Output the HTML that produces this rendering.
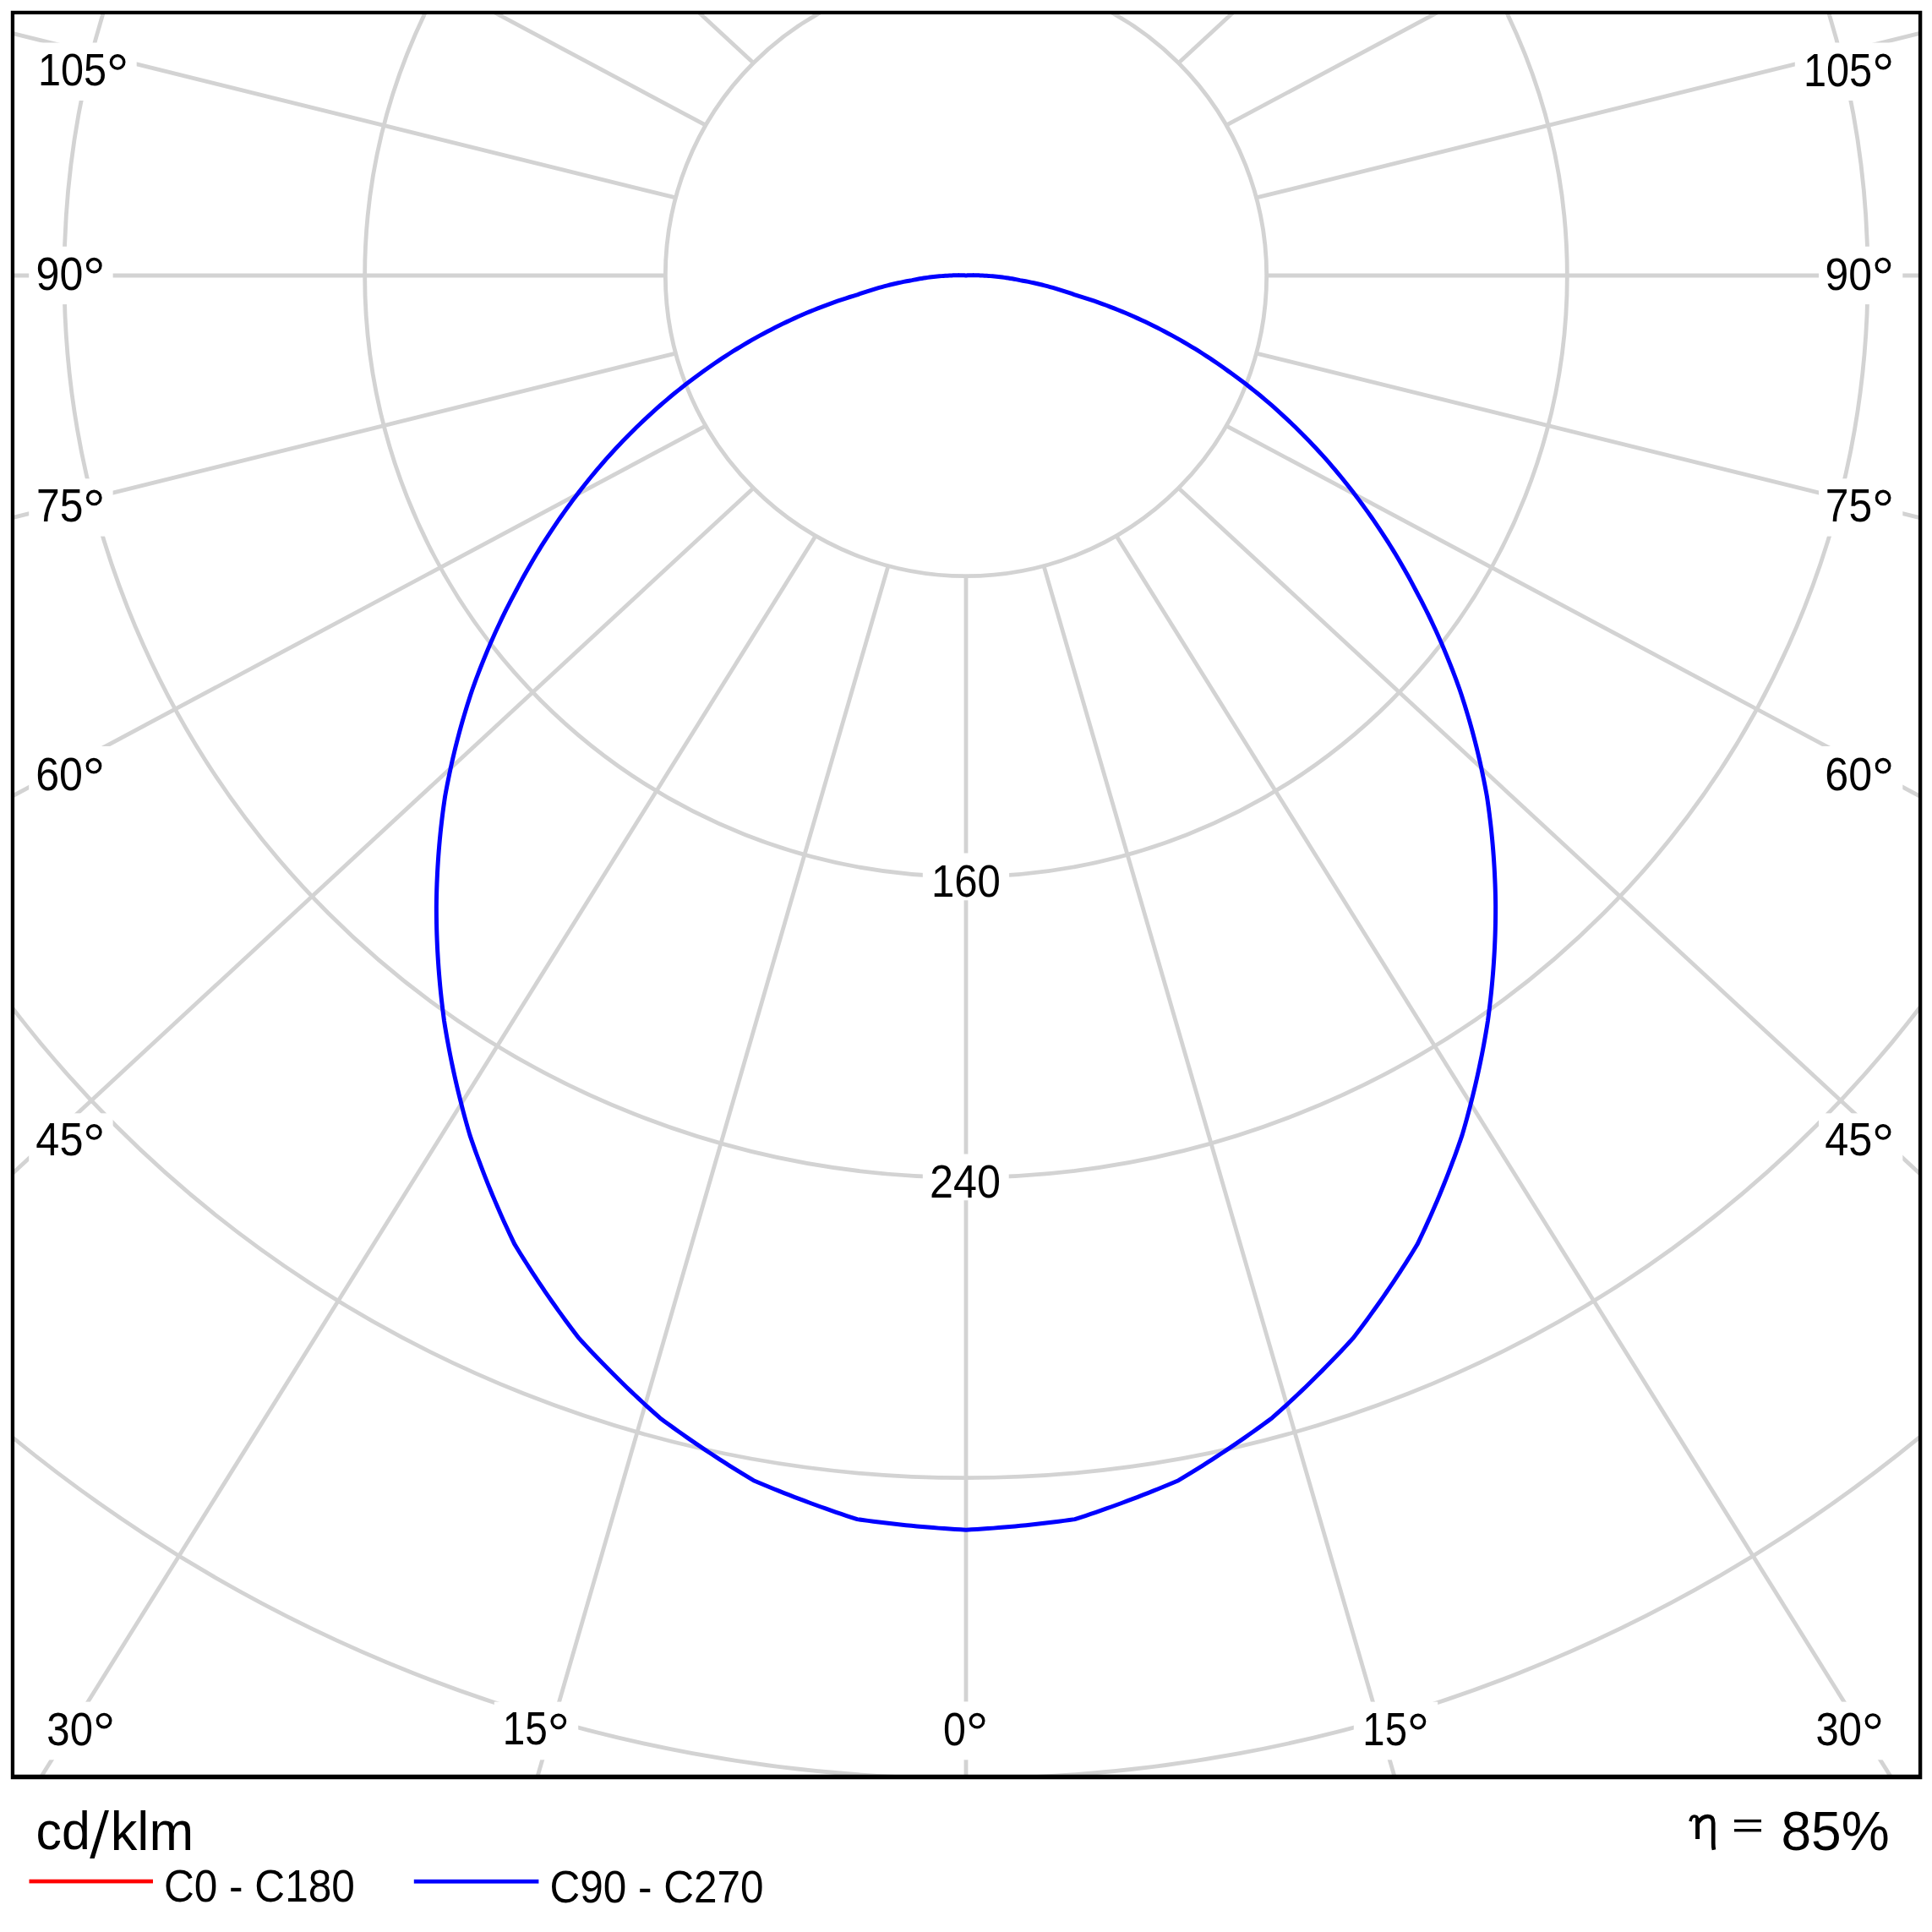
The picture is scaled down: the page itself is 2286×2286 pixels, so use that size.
<!DOCTYPE html><html><head><meta charset="utf-8"><style>html,body{margin:0;padding:0;background:#fff;overflow:hidden}svg{display:block}</style></head><body>
<svg width="2286" height="2286" viewBox="0 0 2286 2286">
<rect width="2286" height="2286" fill="#fff"/>
<defs><clipPath id="fr"><rect x="17" y="17" width="2253" height="2083"/></clipPath></defs>
<g clip-path="url(#fr)" fill="none" stroke="#d3d3d3" stroke-width="4.8">
<circle cx="1143.0" cy="326.0" r="355.67"/>
<circle cx="1143.0" cy="326.0" r="711.34"/>
<circle cx="1143.0" cy="326.0" r="1067.01"/>
<circle cx="1143.0" cy="326.0" r="1422.68"/>
<circle cx="1143.0" cy="326.0" r="1778.35"/>
<line x1="1143.00" y1="681.67" x2="1143.00" y2="4181.67"/>
<line x1="1050.95" y1="669.55" x2="77.12" y2="4031.35"/>
<line x1="965.16" y1="634.02" x2="-888.04" y2="3603.13"/>
<line x1="891.50" y1="577.50" x2="-1677.84" y2="2954.14"/>
<line x1="834.98" y1="503.84" x2="-2252.34" y2="2152.61"/>
<line x1="799.45" y1="418.05" x2="-2597.76" y2="1260.06"/>
<line x1="787.33" y1="326.00" x2="-2712.67" y2="326.00"/>
<line x1="799.45" y1="233.95" x2="-2597.76" y2="-608.06"/>
<line x1="834.98" y1="148.17" x2="-2252.34" y2="-1500.61"/>
<line x1="891.50" y1="74.50" x2="-1677.84" y2="-2302.14"/>
<line x1="1235.05" y1="669.55" x2="2208.88" y2="4031.35"/>
<line x1="1320.84" y1="634.02" x2="3174.04" y2="3603.13"/>
<line x1="1394.50" y1="577.50" x2="3963.84" y2="2954.14"/>
<line x1="1451.02" y1="503.84" x2="4538.34" y2="2152.61"/>
<line x1="1486.55" y1="418.05" x2="4883.76" y2="1260.06"/>
<line x1="1498.67" y1="326.00" x2="4998.67" y2="326.00"/>
<line x1="1486.55" y1="233.95" x2="4883.76" y2="-608.06"/>
<line x1="1451.02" y1="148.17" x2="4538.34" y2="-1500.61"/>
<line x1="1394.50" y1="74.50" x2="3963.84" y2="-2302.14"/>
</g>
<rect x="34.2" y="50.5" width="127.5" height="68.5" fill="#fff"/>
<rect x="34.2" y="291.7" width="99.4" height="68.4" fill="#fff"/>
<rect x="34.2" y="566.3" width="99.4" height="68.3" fill="#fff"/>
<rect x="34.2" y="883" width="99.4" height="68.4" fill="#fff"/>
<rect x="34.2" y="1317.3" width="99.4" height="68.4" fill="#fff"/>
<rect x="2123.8" y="50.5" width="127.5" height="68.5" fill="#fff"/>
<rect x="2152" y="291.7" width="99.3" height="68.4" fill="#fff"/>
<rect x="2152" y="566.3" width="99.3" height="68.3" fill="#fff"/>
<rect x="2152" y="883" width="99.3" height="68.4" fill="#fff"/>
<rect x="2152" y="1317.3" width="99.3" height="68.4" fill="#fff"/>
<rect x="45.2" y="2013.6" width="99.3" height="68.7" fill="#fff"/>
<rect x="584.8" y="2013.6" width="99.4" height="68.7" fill="#fff"/>
<rect x="1105.5" y="2013.4" width="75.0" height="68.9" fill="#fff"/>
<rect x="1601.8" y="2013.6" width="99.4" height="68.7" fill="#fff"/>
<rect x="2138" y="2013.6" width="99.4" height="68.7" fill="#fff"/>
<rect x="1091.8" y="1009.5" width="102.3" height="55.8" fill="#fff"/>
<rect x="1091.8" y="1365.5" width="101.9" height="54.8" fill="#fff"/>
<path d="M1143.00,326.00 L1142.14,325.93 L1141.27,325.86 L1140.41,325.81 L1139.55,325.76 L1138.68,325.72 L1137.82,325.68 L1136.96,325.66 L1136.09,325.64 L1135.23,325.63 L1134.36,325.62 L1133.49,325.63 L1132.63,325.64 L1131.76,325.66 L1130.90,325.68 L1130.03,325.72 L1129.17,325.76 L1128.30,325.81 L1127.44,325.86 L1126.57,325.93 L1125.71,326.00 L1123.36,326.09 L1121.02,326.19 L1118.67,326.32 L1116.33,326.47 L1113.99,326.63 L1111.64,326.82 L1109.30,327.03 L1106.96,327.26 L1104.63,327.51 L1102.29,327.78 L1099.95,328.07 L1097.62,328.38 L1095.29,328.71 L1092.96,329.06 L1090.63,329.43 L1088.31,329.82 L1085.99,330.24 L1083.67,330.67 L1081.35,331.12 L1079.04,331.60 L1075.78,332.18 L1072.53,332.79 L1069.28,333.42 L1066.03,334.09 L1062.79,334.78 L1059.56,335.51 L1056.33,336.26 L1053.10,337.04 L1049.88,337.85 L1046.67,338.68 L1043.46,339.55 L1040.26,340.44 L1037.06,341.36 L1033.87,342.31 L1030.68,343.29 L1027.50,344.29 L1024.33,345.33 L1021.17,346.39 L1018.01,347.48 L1014.86,348.59 L1010.09,350.03 L1005.34,351.51 L1000.59,353.04 L995.86,354.60 L991.13,356.21 L986.42,357.86 L981.72,359.55 L977.03,361.28 L972.35,363.05 L967.69,364.87 L963.04,366.72 L958.40,368.62 L953.77,370.56 L949.16,372.54 L944.56,374.56 L939.97,376.62 L935.40,378.72 L930.85,380.87 L926.31,383.05 L921.78,385.28 L917.18,387.57 L912.59,389.90 L908.01,392.27 L903.45,394.69 L898.91,397.14 L894.39,399.64 L889.88,402.18 L885.39,404.76 L880.92,407.38 L876.47,410.04 L872.03,412.74 L867.62,415.48 L863.22,418.26 L858.84,421.08 L854.48,423.94 L850.14,426.84 L845.82,429.78 L841.52,432.76 L837.25,435.78 L832.99,438.84 L828.56,442.00 L824.16,445.21 L819.78,448.46 L815.42,451.75 L811.09,455.07 L806.78,458.44 L802.49,461.85 L798.22,465.30 L793.98,468.79 L789.76,472.32 L785.57,475.88 L781.40,479.49 L777.25,483.14 L773.13,486.82 L769.04,490.55 L764.97,494.31 L760.93,498.11 L756.91,501.95 L752.92,505.83 L748.96,509.75 L744.95,513.73 L740.98,517.75 L737.03,521.82 L733.11,525.92 L729.22,530.06 L725.35,534.23 L721.52,538.45 L717.71,542.70 L713.93,546.98 L710.18,551.31 L706.47,555.67 L702.78,560.07 L699.12,564.51 L695.49,568.98 L691.89,573.48 L688.33,578.03 L684.79,582.61 L681.29,587.22 L677.82,591.87 L674.38,596.56 L670.87,601.34 L667.39,606.16 L663.94,611.01 L660.53,615.90 L657.15,620.82 L653.81,625.78 L650.50,630.77 L647.22,635.80 L643.98,640.86 L640.77,645.95 L637.60,651.08 L634.46,656.25 L631.36,661.44 L628.30,666.67 L625.27,671.94 L622.28,677.23 L619.32,682.56 L616.40,687.92 L613.52,693.32 L610.67,698.74 L607.70,704.32 L604.76,709.92 L601.86,715.56 L599.00,721.24 L596.18,726.94 L593.40,732.68 L590.66,738.45 L587.96,744.25 L585.30,750.08 L582.68,755.95 L580.10,761.84 L577.56,767.77 L575.07,773.72 L572.61,779.71 L570.20,785.72 L567.82,791.77 L565.49,797.84 L563.21,803.95 L560.96,810.08 L558.76,816.24 L556.74,822.31 L554.76,828.40 L552.83,834.52 L550.94,840.67 L549.09,846.85 L547.28,853.05 L545.52,859.27 L543.80,865.52 L542.12,871.80 L540.49,878.10 L538.90,884.42 L537.36,890.77 L535.85,897.15 L534.40,903.54 L532.98,909.96 L531.61,916.41 L530.29,922.88 L529.01,929.37 L527.78,935.88 L526.59,942.41 L525.65,948.76 L524.76,955.13 L523.91,961.51 L523.11,967.92 L522.35,974.34 L521.63,980.79 L520.96,987.25 L520.33,993.73 L519.75,1000.23 L519.21,1006.74 L518.72,1013.28 L518.27,1019.83 L517.87,1026.40 L517.52,1032.98 L517.21,1039.58 L516.94,1046.20 L516.72,1052.83 L516.55,1059.48 L516.42,1066.14 L516.34,1072.82 L516.36,1079.45 L516.42,1086.10 L516.53,1092.76 L516.68,1099.44 L516.88,1106.13 L517.13,1112.83 L517.42,1119.54 L517.76,1126.27 L518.15,1133.01 L518.58,1139.76 L519.06,1146.52 L519.59,1153.29 L520.17,1160.07 L520.79,1166.87 L521.46,1173.67 L522.18,1180.49 L522.95,1187.31 L523.76,1194.14 L524.62,1200.99 L525.53,1207.84 L526.60,1214.54 L527.71,1221.25 L528.88,1227.96 L530.09,1234.68 L531.34,1241.41 L532.65,1248.14 L534.00,1254.88 L535.40,1261.63 L536.84,1268.38 L538.33,1275.14 L539.87,1281.90 L541.46,1288.66 L543.10,1295.43 L544.78,1302.21 L546.51,1308.98 L548.29,1315.76 L550.12,1322.55 L551.99,1329.33 L553.91,1336.12 L555.88,1342.92 L558.09,1349.38 L560.35,1355.84 L562.64,1362.30 L564.99,1368.76 L567.38,1375.22 L569.81,1381.68 L572.29,1388.14 L574.82,1394.59 L577.39,1401.05 L580.01,1407.50 L582.67,1413.95 L585.38,1420.40 L588.13,1426.84 L590.93,1433.28 L593.78,1439.72 L596.67,1446.15 L599.60,1452.58 L602.58,1459.00 L605.61,1465.42 L608.69,1471.84 L612.14,1477.52 L615.63,1483.20 L619.17,1488.87 L622.74,1494.53 L626.35,1500.18 L630.00,1505.82 L633.69,1511.45 L637.42,1517.07 L641.19,1522.69 L645.00,1528.29 L648.84,1533.88 L652.73,1539.46 L656.66,1545.03 L660.62,1550.58 L664.63,1556.13 L668.67,1561.67 L672.76,1567.19 L676.88,1572.70 L681.04,1578.20 L685.24,1583.68 L689.70,1588.54 L694.20,1593.38 L698.72,1598.21 L703.29,1603.02 L707.88,1607.82 L712.51,1612.60 L717.17,1617.36 L721.87,1622.11 L726.60,1626.84 L731.36,1631.55 L736.16,1636.25 L740.98,1640.93 L745.85,1645.60 L750.74,1650.24 L755.67,1654.87 L760.63,1659.48 L765.62,1664.07 L770.65,1668.65 L775.71,1673.20 L780.80,1677.74 L786.09,1681.64 L791.40,1685.52 L796.74,1689.38 L802.11,1693.22 L807.51,1697.04 L812.93,1700.84 L818.38,1704.62 L823.85,1708.37 L829.36,1712.10 L834.89,1715.82 L840.44,1719.51 L846.02,1723.17 L851.63,1726.82 L857.26,1730.44 L862.92,1734.04 L868.61,1737.62 L874.32,1741.18 L880.06,1744.71 L885.82,1748.22 L891.61,1751.70 L897.58,1754.24 L903.57,1756.76 L909.58,1759.25 L915.61,1761.71 L921.65,1764.15 L927.71,1766.56 L933.78,1768.95 L939.87,1771.31 L945.98,1773.65 L952.11,1775.96 L958.25,1778.25 L964.41,1780.50 L970.58,1782.74 L976.77,1784.94 L982.98,1787.12 L989.20,1789.28 L995.44,1791.41 L1001.70,1793.51 L1007.96,1795.58 L1014.25,1797.63 L1020.64,1798.52 L1027.04,1799.39 L1033.45,1800.23 L1039.86,1801.04 L1046.27,1801.82 L1052.69,1802.58 L1059.11,1803.30 L1065.54,1804.00 L1071.97,1804.68 L1078.41,1805.32 L1084.85,1805.93 L1091.30,1806.52 L1097.75,1807.08 L1104.20,1807.61 L1110.66,1808.12 L1117.12,1808.59 L1123.59,1809.04 L1130.05,1809.46 L1136.53,1809.85 L1143.00,1810.21 L1149.47,1809.85 L1155.95,1809.46 L1162.41,1809.04 L1168.88,1808.59 L1175.34,1808.12 L1181.80,1807.61 L1188.25,1807.08 L1194.70,1806.52 L1201.15,1805.93 L1207.59,1805.32 L1214.03,1804.68 L1220.46,1804.00 L1226.89,1803.30 L1233.31,1802.58 L1239.73,1801.82 L1246.14,1801.04 L1252.55,1800.23 L1258.96,1799.39 L1265.36,1798.52 L1271.75,1797.63 L1278.04,1795.58 L1284.30,1793.51 L1290.56,1791.41 L1296.80,1789.28 L1303.02,1787.12 L1309.23,1784.94 L1315.42,1782.74 L1321.59,1780.50 L1327.75,1778.25 L1333.89,1775.96 L1340.02,1773.65 L1346.13,1771.31 L1352.22,1768.95 L1358.29,1766.56 L1364.35,1764.15 L1370.39,1761.71 L1376.42,1759.25 L1382.43,1756.76 L1388.42,1754.24 L1394.39,1751.70 L1400.18,1748.22 L1405.94,1744.71 L1411.68,1741.18 L1417.39,1737.62 L1423.08,1734.04 L1428.74,1730.44 L1434.37,1726.82 L1439.98,1723.17 L1445.56,1719.51 L1451.11,1715.82 L1456.64,1712.10 L1462.15,1708.37 L1467.62,1704.62 L1473.07,1700.84 L1478.49,1697.04 L1483.89,1693.22 L1489.26,1689.38 L1494.60,1685.52 L1499.91,1681.64 L1505.20,1677.74 L1510.29,1673.20 L1515.35,1668.65 L1520.38,1664.07 L1525.37,1659.48 L1530.33,1654.87 L1535.26,1650.24 L1540.15,1645.60 L1545.02,1640.93 L1549.84,1636.25 L1554.64,1631.55 L1559.40,1626.84 L1564.13,1622.11 L1568.83,1617.36 L1573.49,1612.60 L1578.12,1607.82 L1582.71,1603.02 L1587.28,1598.21 L1591.80,1593.38 L1596.30,1588.54 L1600.76,1583.68 L1604.96,1578.20 L1609.12,1572.70 L1613.24,1567.19 L1617.33,1561.67 L1621.37,1556.13 L1625.38,1550.58 L1629.34,1545.03 L1633.27,1539.46 L1637.16,1533.88 L1641.00,1528.29 L1644.81,1522.69 L1648.58,1517.07 L1652.31,1511.45 L1656.00,1505.82 L1659.65,1500.18 L1663.26,1494.53 L1666.83,1488.87 L1670.37,1483.20 L1673.86,1477.52 L1677.31,1471.84 L1680.39,1465.42 L1683.42,1459.00 L1686.40,1452.58 L1689.33,1446.15 L1692.22,1439.72 L1695.07,1433.28 L1697.87,1426.84 L1700.62,1420.40 L1703.33,1413.95 L1705.99,1407.50 L1708.61,1401.05 L1711.18,1394.59 L1713.71,1388.14 L1716.19,1381.68 L1718.62,1375.22 L1721.01,1368.76 L1723.36,1362.30 L1725.65,1355.84 L1727.91,1349.38 L1730.12,1342.92 L1732.09,1336.12 L1734.01,1329.33 L1735.88,1322.55 L1737.71,1315.76 L1739.49,1308.98 L1741.22,1302.21 L1742.90,1295.43 L1744.54,1288.66 L1746.13,1281.90 L1747.67,1275.14 L1749.16,1268.38 L1750.60,1261.63 L1752.00,1254.88 L1753.35,1248.14 L1754.66,1241.41 L1755.91,1234.68 L1757.12,1227.96 L1758.29,1221.25 L1759.40,1214.54 L1760.47,1207.84 L1761.38,1200.99 L1762.24,1194.14 L1763.05,1187.31 L1763.82,1180.49 L1764.54,1173.67 L1765.21,1166.87 L1765.83,1160.07 L1766.41,1153.29 L1766.94,1146.52 L1767.42,1139.76 L1767.85,1133.01 L1768.24,1126.27 L1768.58,1119.54 L1768.87,1112.83 L1769.12,1106.13 L1769.32,1099.44 L1769.47,1092.76 L1769.58,1086.10 L1769.64,1079.45 L1769.66,1072.82 L1769.58,1066.14 L1769.45,1059.48 L1769.28,1052.83 L1769.06,1046.20 L1768.79,1039.58 L1768.48,1032.98 L1768.13,1026.40 L1767.73,1019.83 L1767.28,1013.28 L1766.79,1006.74 L1766.25,1000.23 L1765.67,993.73 L1765.04,987.25 L1764.37,980.79 L1763.65,974.34 L1762.89,967.92 L1762.09,961.51 L1761.24,955.13 L1760.35,948.76 L1759.41,942.41 L1758.22,935.88 L1756.99,929.37 L1755.71,922.88 L1754.39,916.41 L1753.02,909.96 L1751.60,903.54 L1750.15,897.15 L1748.64,890.77 L1747.10,884.42 L1745.51,878.10 L1743.88,871.80 L1742.20,865.52 L1740.48,859.27 L1738.72,853.05 L1736.91,846.85 L1735.06,840.67 L1733.17,834.52 L1731.24,828.40 L1729.26,822.31 L1727.24,816.24 L1725.04,810.08 L1722.79,803.95 L1720.51,797.84 L1718.18,791.77 L1715.80,785.72 L1713.39,779.71 L1710.93,773.72 L1708.44,767.77 L1705.90,761.84 L1703.32,755.95 L1700.70,750.08 L1698.04,744.25 L1695.34,738.45 L1692.60,732.68 L1689.82,726.94 L1687.00,721.24 L1684.14,715.56 L1681.24,709.92 L1678.30,704.32 L1675.33,698.74 L1672.48,693.32 L1669.60,687.92 L1666.68,682.56 L1663.72,677.23 L1660.73,671.94 L1657.70,666.67 L1654.64,661.44 L1651.54,656.25 L1648.40,651.08 L1645.23,645.95 L1642.02,640.86 L1638.78,635.80 L1635.50,630.77 L1632.19,625.78 L1628.85,620.82 L1625.47,615.90 L1622.06,611.01 L1618.61,606.16 L1615.13,601.34 L1611.62,596.56 L1608.18,591.87 L1604.71,587.22 L1601.21,582.61 L1597.67,578.03 L1594.11,573.48 L1590.51,568.98 L1586.88,564.51 L1583.22,560.07 L1579.53,555.67 L1575.82,551.31 L1572.07,546.98 L1568.29,542.70 L1564.48,538.45 L1560.65,534.23 L1556.78,530.06 L1552.89,525.92 L1548.97,521.82 L1545.02,517.75 L1541.05,513.73 L1537.04,509.75 L1533.08,505.83 L1529.09,501.95 L1525.07,498.11 L1521.03,494.31 L1516.96,490.55 L1512.87,486.82 L1508.75,483.14 L1504.60,479.49 L1500.43,475.88 L1496.24,472.32 L1492.02,468.79 L1487.78,465.30 L1483.51,461.85 L1479.22,458.44 L1474.91,455.07 L1470.58,451.75 L1466.22,448.46 L1461.84,445.21 L1457.44,442.00 L1453.01,438.84 L1448.75,435.78 L1444.48,432.76 L1440.18,429.78 L1435.86,426.84 L1431.52,423.94 L1427.16,421.08 L1422.78,418.26 L1418.38,415.48 L1413.97,412.74 L1409.53,410.04 L1405.08,407.38 L1400.61,404.76 L1396.12,402.18 L1391.61,399.64 L1387.09,397.14 L1382.55,394.69 L1377.99,392.27 L1373.41,389.90 L1368.82,387.57 L1364.22,385.28 L1359.69,383.05 L1355.15,380.87 L1350.60,378.72 L1346.03,376.62 L1341.44,374.56 L1336.84,372.54 L1332.23,370.56 L1327.60,368.62 L1322.96,366.72 L1318.31,364.87 L1313.65,363.05 L1308.97,361.28 L1304.28,359.55 L1299.58,357.86 L1294.87,356.21 L1290.14,354.60 L1285.41,353.04 L1280.66,351.51 L1275.91,350.03 L1271.14,348.59 L1267.99,347.48 L1264.83,346.39 L1261.67,345.33 L1258.50,344.29 L1255.32,343.29 L1252.13,342.31 L1248.94,341.36 L1245.74,340.44 L1242.54,339.55 L1239.33,338.68 L1236.12,337.85 L1232.90,337.04 L1229.67,336.26 L1226.44,335.51 L1223.21,334.78 L1219.97,334.09 L1216.72,333.42 L1213.47,332.79 L1210.22,332.18 L1206.96,331.60 L1204.65,331.12 L1202.33,330.67 L1200.01,330.24 L1197.69,329.82 L1195.37,329.43 L1193.04,329.06 L1190.71,328.71 L1188.38,328.38 L1186.05,328.07 L1183.71,327.78 L1181.37,327.51 L1179.04,327.26 L1176.70,327.03 L1174.36,326.82 L1172.01,326.63 L1169.67,326.47 L1167.33,326.32 L1164.98,326.19 L1162.64,326.09 L1160.29,326.00 L1159.43,325.93 L1158.56,325.86 L1157.70,325.81 L1156.83,325.76 L1155.97,325.72 L1155.10,325.68 L1154.24,325.66 L1153.37,325.64 L1152.51,325.63 L1151.64,325.62 L1150.77,325.63 L1149.91,325.64 L1149.04,325.66 L1148.18,325.68 L1147.32,325.72 L1146.45,325.76 L1145.59,325.81 L1144.73,325.86 L1143.86,325.93 L1143.00,326.00 Z" fill="none" stroke="#0000ff" stroke-width="5" stroke-linejoin="round"/>
<path d="M12.8,12.7H2274.3V2105.3H12.8Z M17.1,17.1V2099.8H2269.9V17.1Z" fill="#000" fill-rule="evenodd"/>
<text transform="translate(44.95,101.35) scale(0.8907,1)" font-size="54.60" font-family="Liberation Sans">105</text>
<circle cx="139.10" cy="73.40" r="7.70" fill="none" stroke="#000" stroke-width="3.4"/>
<text transform="translate(42.52,343.35) scale(0.9184,1)" font-size="54.60" font-family="Liberation Sans">90</text>
<circle cx="111.30" cy="314.20" r="7.70" fill="none" stroke="#000" stroke-width="3.4"/>
<text transform="translate(42.98,616.95) scale(0.9126,1)" font-size="54.60" font-family="Liberation Sans">75</text>
<circle cx="111.30" cy="588.90" r="7.70" fill="none" stroke="#000" stroke-width="3.4"/>
<text transform="translate(42.19,935.25) scale(0.9189,1)" font-size="54.60" font-family="Liberation Sans">60</text>
<circle cx="111.00" cy="906.20" r="7.70" fill="none" stroke="#000" stroke-width="3.4"/>
<text transform="translate(42.37,1367.45) scale(0.9232,1)" font-size="54.60" font-family="Liberation Sans">45</text>
<circle cx="111.30" cy="1339.40" r="7.70" fill="none" stroke="#000" stroke-width="3.4"/>
<text transform="translate(2133.95,101.85) scale(0.8919,1)" font-size="54.60" font-family="Liberation Sans">105</text>
<circle cx="2228.20" cy="73.00" r="7.70" fill="none" stroke="#000" stroke-width="3.4"/>
<text transform="translate(2159.43,343.35) scale(0.9131,1)" font-size="54.60" font-family="Liberation Sans">90</text>
<circle cx="2227.90" cy="314.10" r="7.70" fill="none" stroke="#000" stroke-width="3.4"/>
<text transform="translate(2159.78,616.95) scale(0.9126,1)" font-size="54.60" font-family="Liberation Sans">75</text>
<circle cx="2228.10" cy="588.90" r="7.70" fill="none" stroke="#000" stroke-width="3.4"/>
<text transform="translate(2159.29,935.25) scale(0.9189,1)" font-size="54.60" font-family="Liberation Sans">60</text>
<circle cx="2228.10" cy="906.20" r="7.70" fill="none" stroke="#000" stroke-width="3.4"/>
<text transform="translate(2159.17,1367.45) scale(0.9232,1)" font-size="54.60" font-family="Liberation Sans">45</text>
<circle cx="2228.10" cy="1339.40" r="7.70" fill="none" stroke="#000" stroke-width="3.4"/>
<text transform="translate(55.36,2065.25) scale(0.9007,1)" font-size="54.60" font-family="Liberation Sans">30</text>
<circle cx="123.10" cy="2036.10" r="7.70" fill="none" stroke="#000" stroke-width="3.4"/>
<text transform="translate(594.72,2064.35) scale(0.8743,1)" font-size="54.60" font-family="Liberation Sans">15</text>
<circle cx="660.80" cy="2036.80" r="7.70" fill="none" stroke="#000" stroke-width="3.4"/>
<text transform="translate(1116.06,2065.15) scale(0.8860,1)" font-size="54.60" font-family="Liberation Sans">0</text>
<circle cx="1156.10" cy="2036.20" r="7.70" fill="none" stroke="#000" stroke-width="3.4"/>
<text transform="translate(1612.36,2064.55) scale(0.8651,1)" font-size="54.60" font-family="Liberation Sans">15</text>
<circle cx="1677.90" cy="2037.00" r="7.70" fill="none" stroke="#000" stroke-width="3.4"/>
<text transform="translate(2148.46,2065.05) scale(0.8972,1)" font-size="54.60" font-family="Liberation Sans">30</text>
<circle cx="2216.00" cy="2036.60" r="7.70" fill="none" stroke="#000" stroke-width="3.4"/>
<text transform="translate(1101.92,1061.05) scale(0.8999,1)" font-size="54.60" font-family="Liberation Sans">160</text>
<text transform="translate(1099.98,1416.75) scale(0.9215,1)" font-size="54.60" font-family="Liberation Sans">240</text>
<text transform="translate(42.61,2187.97) scale(0.9617,1)" font-size="63.27" font-family="Liberation Sans">cd</text>
<text transform="translate(130.73,2188.60) scale(0.9865,1)" font-size="64.14" font-family="Liberation Sans">klm</text>
<polygon points="106.2,2199 111.7,2199 128.9,2142.1 124,2142.1" fill="#000"/>
<text transform="translate(193.92,2250.46) scale(0.9207,1)" font-size="53.85" font-family="Liberation Sans">C0 - C180</text>
<text transform="translate(650.42,2250.86) scale(0.9194,1)" font-size="53.85" font-family="Liberation Sans">C90 - C270</text>
<text transform="translate(2107.48,2188.56) scale(0.9943,1)" font-size="64.45" font-family="Liberation Sans">85%</text>
<path d="M1999.9,2155 C2000.9,2150.6 2002.7,2149 2004.7,2149 C2007.1,2149 2008.6,2150.6 2008.6,2153.6" fill="none" stroke="#000" stroke-width="3.6"/>
<path d="M2008.6,2151.5 L2008.6,2176" fill="none" stroke="#000" stroke-width="5"/>
<path d="M2009.2,2156.4 C2012.8,2151.4 2016.6,2149.2 2020.6,2149.2 C2024.9,2149.2 2027.2,2151.8 2027.2,2157 L2027.2,2181 C2027.2,2185 2027.6,2187.2 2028,2188.8" fill="none" stroke="#000" stroke-width="4.7"/>
<rect x="2052" y="2152.9" width="32" height="3.4" fill="#000"/>
<rect x="2052" y="2164.0" width="32" height="3.4" fill="#000"/>
<rect x="34.5" y="2223.7" width="146.5" height="4.7" fill="#ff0000"/>
<rect x="489.8" y="2223.8" width="147.6" height="4.8" fill="#0000ff"/>
</svg></body></html>
